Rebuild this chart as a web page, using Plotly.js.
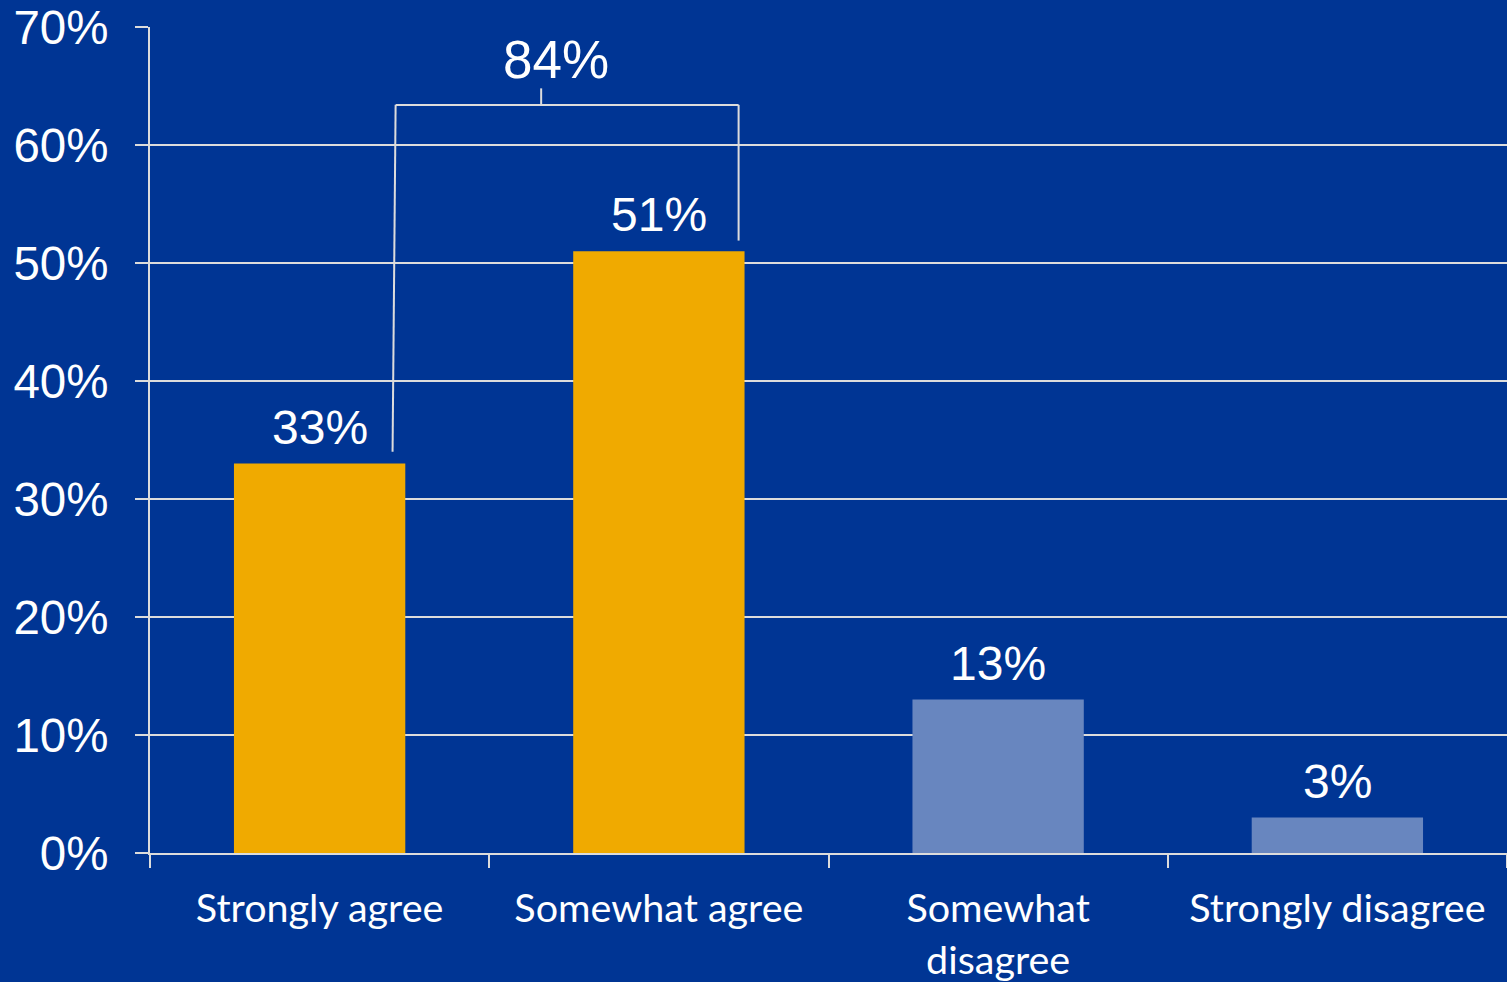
<!DOCTYPE html>
<html><head><meta charset="utf-8">
<script src="https://cdn.plot.ly/plotly-3.0.1.min.js"></script>
<style>html,body{margin:0;padding:0;background:#003594;overflow:hidden}</style>
</head><body><div id="chart" style="width:1507px;height:982px"></div>
<script>
const categories = ["Strongly agree", "Somewhat agree", "Somewhat<br>disagree", "Strongly disagree"];
const values = [33, 51, 13, 3];
const barColors = ["#F0AA00", "#F0AA00", "#6886BF", "#6886BF"];
const valueLabels = ["33%", "51%", "13%", "3%"];
const yTickVals = [0, 10, 20, 30, 40, 50, 60, 70];
const yTickText = ["0%", "10%", "20%", "30%", "40%", "50%", "60%", "70%"];
const combinedLabel = "84%";

const BG = "#003594";
const LINE = "#DCDCDC";
const ARIAL = "Liberation Sans, Arial, sans-serif";

const trace = {
  type: "bar",
  x: categories,
  y: values,
  marker: {color: barColors, line: {width: 0}},
  width: 0.505,
  cliponaxis: false,
  hoverinfo: "skip"
};

const valueAnnotations = categories.map((c, i) => ({
  xref: "x", yref: "y", x: c, y: values[i], yanchor: "bottom", yshift: 8,
  showarrow: false, text: valueLabels[i],
  font: {family: ARIAL, size: 48, color: "#FFFFFF"}
}));

// bracket grouping the two "agree" bars
const bracketTop = 63.4;
const leftX = 0.224, rightX = 1.235, midX = 0.653;
const lineStyle = {color: LINE, width: 2};
const bracketShapes = [
  {type: "line", xref: "x", yref: "y", x0: leftX - 0.009, y0: values[0] + 1.0, x1: leftX, y1: bracketTop, line: lineStyle},
  {type: "line", xref: "x", yref: "y", x0: leftX, y0: bracketTop, x1: rightX, y1: bracketTop, line: lineStyle},
  {type: "line", xref: "x", yref: "y", x0: rightX, y0: bracketTop, x1: rightX, y1: values[1] + 0.9, line: lineStyle},
  {type: "line", xref: "x", yref: "y", x0: midX, y0: bracketTop, x1: midX, y1: bracketTop + 1.4, line: lineStyle}
];

const layout = {
  width: 1507, height: 982,
  margin: {l: 150, r: 0, t: 27, b: 129},
  paper_bgcolor: BG, plot_bgcolor: BG,
  showlegend: false,
  bargap: 0.5,
  xaxis: {
    type: "category",
    range: [-0.5, 3.5],
    tickson: "boundaries",
    ticks: "outside", ticklen: 13, tickwidth: 2, tickcolor: LINE,
    showgrid: false, showline: true, linecolor: LINE, linewidth: 2,
    tickfont: {family: "Lato, 'Open Sans', sans-serif", size: 39.5, color: "#FFFFFF"},
    ticklabelstandoff: 20,
    fixedrange: true
  },
  yaxis: {
    range: [0, 70],
    tickvals: yTickVals, ticktext: yTickText,
    ticks: "outside", ticklen: 13, tickwidth: 2, tickcolor: LINE,
    showgrid: true, gridcolor: LINE, gridwidth: 2,
    showline: true, linecolor: LINE, linewidth: 2,
    zeroline: false,
    tickfont: {family: ARIAL, size: 47.5, color: "#FFFFFF"},
    ticklabelstandoff: 17,
    fixedrange: true
  },
  shapes: bracketShapes,
  annotations: valueAnnotations.concat([
    {xref: "x", yref: "y", x: midX + 0.045, y: bracketTop + 1.2, yanchor: "bottom", showarrow: false,
     text: combinedLabel, font: {family: ARIAL, size: 53, color: "#FFFFFF"}}
  ])
};

Plotly.newPlot("chart", [trace], layout, {displayModeBar: false, staticPlot: true});
</script></body></html>
